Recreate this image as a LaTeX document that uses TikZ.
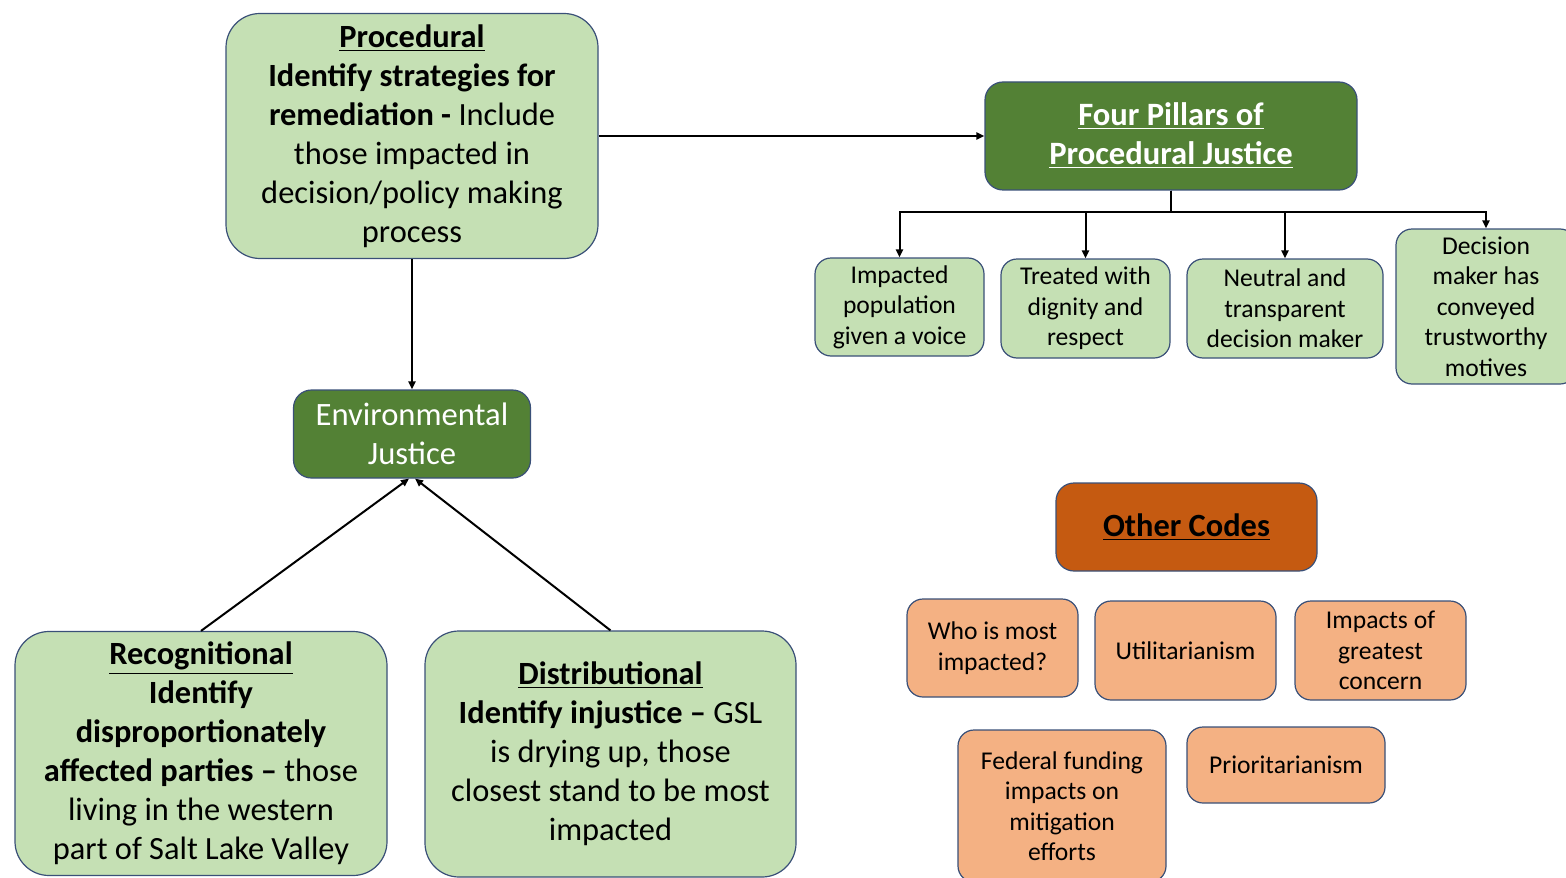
\documentclass[tikz,border=0pt]{standalone}
\usepackage{fontspec}
\setmainfont{Carlito}
\usepackage{xcolor}
\usetikzlibrary{arrows.meta, positioning, calc}

\definecolor{lightgreen}{HTML}{C5E0B4}
\definecolor{darkgreen}{HTML}{538135}
\definecolor{boxline}{HTML}{3A5078}
\definecolor{lightorange}{HTML}{F4B183}
\definecolor{darkorange}{HTML}{C55A11}

\begin{document}
\begin{tikzpicture}[x=0.5pt, y=-0.5pt,
    box/.style={draw=boxline, line width=0.6pt, inner sep=0pt, align=center},
    bigbox/.style={box, fill=lightgreen, rounded corners=17pt,
        font=\fontsize{16.2}{19.5}\selectfont},
    headbox/.style={box, fill=darkgreen, text=white, rounded corners=9pt,
        font=\fontsize{16.3}{19.5}\selectfont},
    pillar/.style={box, fill=lightgreen, rounded corners=8pt,
        font=\fontsize{12.8}{15.2}\selectfont},
    codebox/.style={box, fill=lightorange, rounded corners=8pt,
        font=\fontsize{12.8}{15.2}\selectfont},
    arr/.style={line width=1pt, -{Triangle[length=4pt, width=3.5pt]}}]
    \useasboundingbox (0,0) rectangle (1566,877);

    % justice boxes
    \node[bigbox, minimum width=186pt, minimum height=122.5pt] (proc) at (412,136)
        {\textbf{\underline{Procedural}}\\ \textbf{Identify strategies for}\\
         \textbf{remediation -} Include\\ those impacted in\\
         decision/policy making\\ process};
    \node[headbox, minimum width=186pt, minimum height=54pt] (pillars) at (1171,136)
        {\textbf{\underline{Four Pillars of}}\\ \textbf{\underline{Procedural Justice}}};
    \node[headbox, minimum width=118.5pt, minimum height=44pt] (ej) at (412,434)
        {Environmental\\ Justice};
    \node[bigbox, minimum width=186pt, minimum height=122pt] (recog) at (201,753.5)
        {\textbf{\underline{Recognitional}}\\ \textbf{Identify}\\
         \textbf{disproportionately}\\ \textbf{affected parties --} those\\
         living in the western\\ part of Salt Lake Valley};
    \node[bigbox, minimum width=185.5pt, minimum height=123pt] (distr) at (610.5,754)
        {\textbf{\underline{Distributional}}\\ \textbf{Identify injustice --} GSL\\
         is drying up, those\\ closest stand to be most\\ impacted};

    % four pillars
    \node[pillar, minimum width=84.5pt, minimum height=49pt] (voice) at (899.5,307)
        {Impacted\\ population\\ given a voice};
    \node[pillar, minimum width=84.5pt, minimum height=49.5pt] (dignity) at (1085.5,308.5)
        {Treated with\\ dignity and\\ respect};
    \node[pillar, minimum width=98pt, minimum height=49.5pt] (neutral) at (1285,308.5)
        {Neutral and\\ transparent\\ decision maker};
    \node[pillar, minimum width=90pt, minimum height=77.5pt] (motives) at (1486,306.5)
        {Decision\\ maker has\\ conveyed\\ trustworthy\\ motives};

    % other codes
    \node[box, fill=darkorange, rounded corners=9pt, minimum width=130.5pt,
        minimum height=44pt, font=\fontsize{16.2}{19.5}\selectfont] (other) at (1186.5,527)
        {\textbf{\underline{Other Codes}}};
    \node[codebox, minimum width=85.5pt, minimum height=49pt] (who) at (992.5,648)
        {Who is most\\ impacted?};
    \node[codebox, minimum width=90.5pt, minimum height=49.5pt] (util) at (1185.5,650.5)
        {Utilitarianism};
    \node[codebox, minimum width=85.5pt, minimum height=49.5pt] (concern) at (1380.5,650.5)
        {Impacts of\\ greatest\\ concern};
    \node[codebox, minimum width=104pt, minimum height=76pt] (federal) at (1062,806)
        {Federal funding\\ impacts on\\ mitigation\\ efforts};
    \node[codebox, minimum width=99pt, minimum height=38pt] (prior) at (1286,765)
        {Prioritarianism};

    % connectors
    \draw[arr] (proc) -- (pillars);
    \draw[arr] (proc) -- (ej);
    \draw[arr] (recog.north) -- ([xshift=-1.5pt]ej.south);
    \draw[arr] (distr.north) -- ([xshift=1.5pt]ej.south);
    \foreach \p in {voice, dignity, neutral, motives}
        \draw[arr] (pillars.south) -- ++(0,21) -| (\p.north);
\end{tikzpicture}
\end{document}
